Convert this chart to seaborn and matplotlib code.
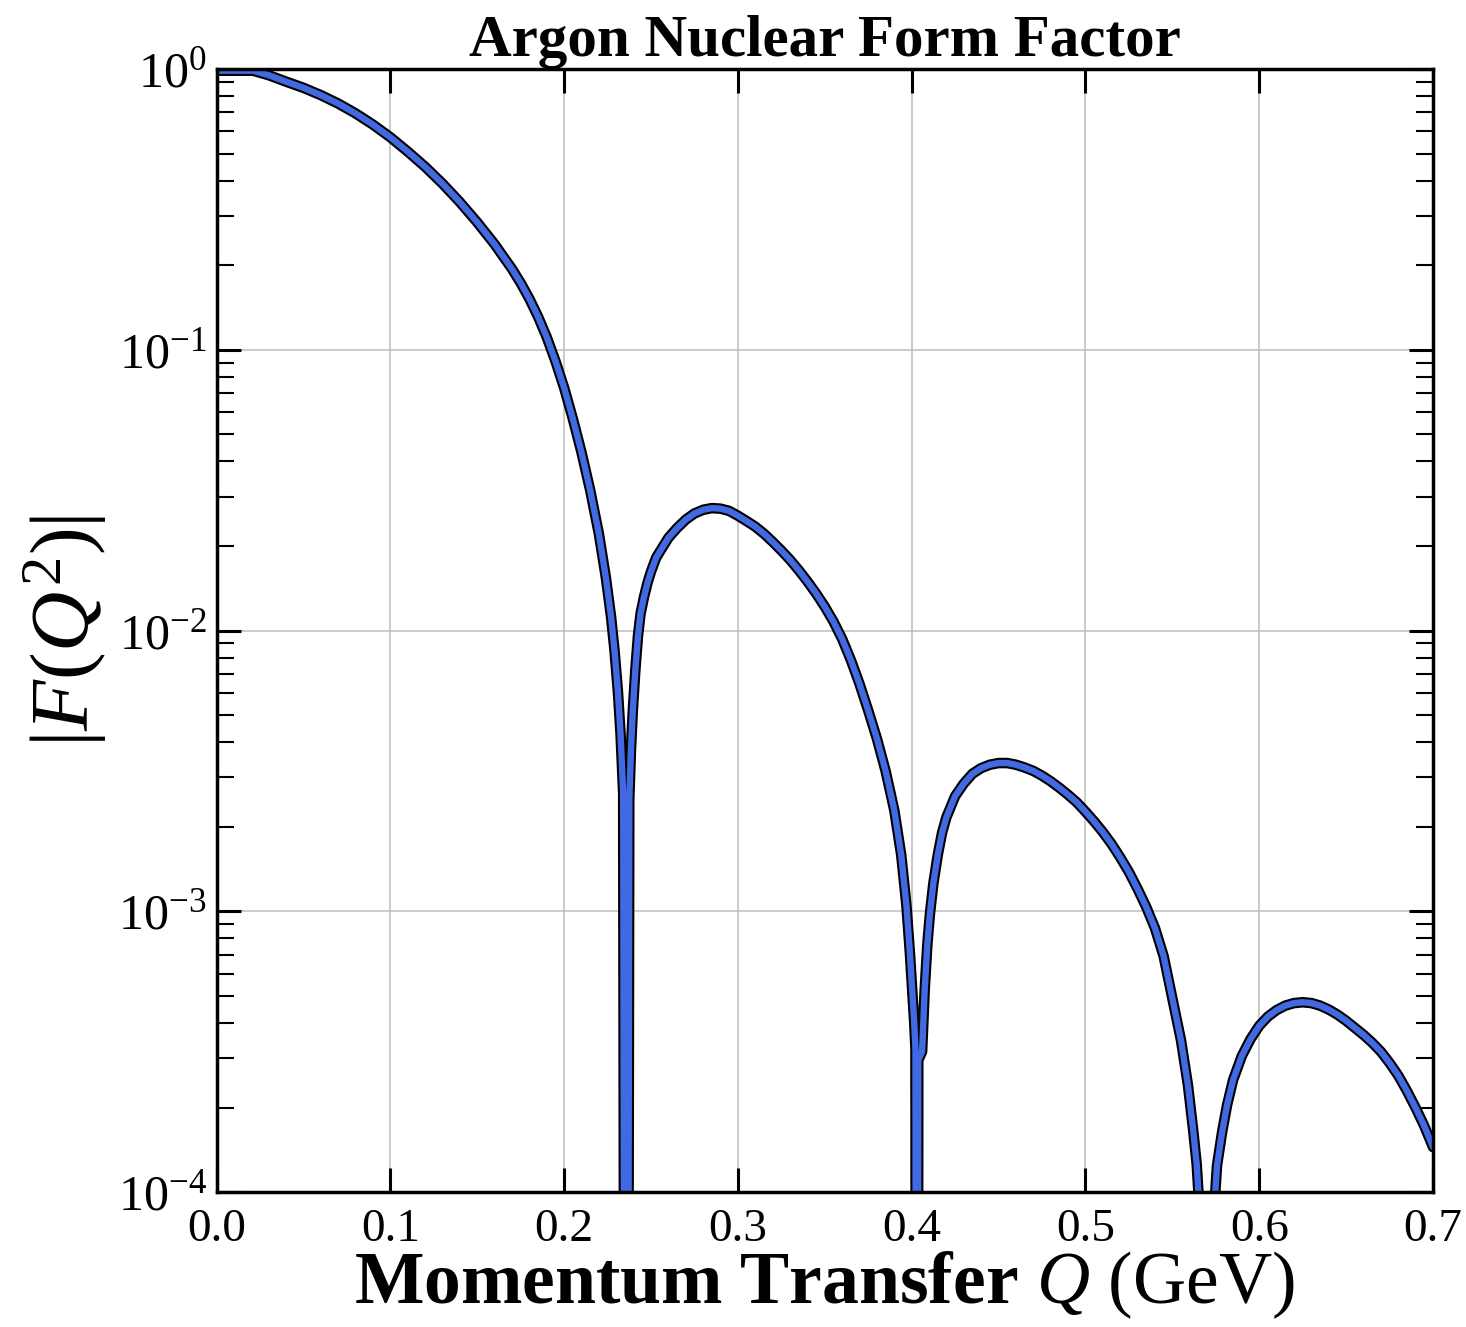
import numpy as np
import pandas as pd
import seaborn as sns
import matplotlib
matplotlib.use("Agg")
import matplotlib.pyplot as plt
import matplotlib.patheffects as pe
from matplotlib.ticker import LogLocator, MultipleLocator, FormatStrFormatter, NullFormatter

# Momentum transfer Q (GeV)
q_gev = [
    0.0000, 0.0210, 0.0300, 0.0400, 0.0500, 0.0600, 0.0700, 0.0800, 0.0900, 0.1000,
    0.1100, 0.1200, 0.1300, 0.1400, 0.1500, 0.1600, 0.1700, 0.1750, 0.1800, 0.1850,
    0.1900, 0.1950, 0.2000, 0.2050, 0.2100, 0.2150, 0.2200, 0.2240, 0.2270, 0.2290,
    0.2310, 0.2325, 0.2340, 0.2358, 0.2375, 0.2385, 0.2395, 0.2410, 0.2425, 0.2440,
    0.2460, 0.2480, 0.2500, 0.2530, 0.2560, 0.2600, 0.2650, 0.2700, 0.2750, 0.2800,
    0.2850, 0.2900, 0.2950, 0.3000, 0.3050, 0.3100, 0.3150, 0.3200, 0.3250, 0.3300,
    0.3350, 0.3400, 0.3450, 0.3500, 0.3550, 0.3600, 0.3650, 0.3700, 0.3750, 0.3800,
    0.3850, 0.3900, 0.3940, 0.3970, 0.3990, 0.4005, 0.4015, 0.4022, 0.4030, 0.4038,
    0.4060, 0.4075, 0.4090, 0.4105, 0.4125, 0.4150, 0.4175, 0.4200, 0.4250, 0.4300,
    0.4350, 0.4400, 0.4450, 0.4500, 0.4550, 0.4600, 0.4650, 0.4700, 0.4750, 0.4800,
    0.4850, 0.4900, 0.4950, 0.5000, 0.5050, 0.5100, 0.5150, 0.5200, 0.5250, 0.5300,
    0.5350, 0.5400, 0.5450, 0.5500, 0.5550, 0.5590, 0.5620, 0.5640, 0.5655, 0.5698,
    0.5742, 0.5757, 0.5786, 0.5815, 0.5850, 0.5900, 0.5950, 0.6000, 0.6050, 0.6100,
    0.6150, 0.6200, 0.6250, 0.6300, 0.6350, 0.6400, 0.6450, 0.6500, 0.6550, 0.6600,
    0.6650, 0.6700, 0.6750, 0.6800, 0.6850, 0.6900, 0.6950, 0.7000,
]

# log10 |F(Q^2)| of the argon nuclear form factor (zeros of F sit far below the axis)
log10_form_factor = [
    -0.006, -0.006, -0.022, -0.045, -0.067, -0.093, -0.123, -0.158, -0.198, -0.243,
    -0.294, -0.348, -0.408, -0.474, -0.546, -0.624, -0.712, -0.762, -0.818, -0.882,
    -0.955, -1.040, -1.135, -1.245, -1.365, -1.500, -1.655, -1.810, -1.950, -2.070,
    -2.220, -2.370, -2.580, -9.000, -2.600, -2.420, -2.290, -2.140, -2.020, -1.940,
    -1.880, -1.830, -1.790, -1.740, -1.710, -1.670, -1.635, -1.605, -1.583, -1.570,
    -1.564, -1.566, -1.574, -1.591, -1.610, -1.630, -1.655, -1.684, -1.715, -1.748,
    -1.785, -1.825, -1.868, -1.915, -1.968, -2.030, -2.105, -2.190, -2.285, -2.385,
    -2.500, -2.640, -2.800, -2.980, -3.150, -3.300, -3.400, -3.490, -9.000, -3.530,
    -3.500, -3.280, -3.120, -3.010, -2.900, -2.800, -2.720, -2.665, -2.590, -2.545,
    -2.510, -2.490, -2.478, -2.472, -2.472, -2.478, -2.488, -2.500, -2.517, -2.537,
    -2.560, -2.585, -2.612, -2.645, -2.680, -2.718, -2.760, -2.808, -2.860, -2.920,
    -2.985, -3.060, -3.160, -3.310, -3.460, -3.620, -3.780, -3.900, -4.050, -9.000,
    -4.050, -3.906, -3.788, -3.690, -3.600, -3.515, -3.455, -3.408, -3.375, -3.352,
    -3.336, -3.327, -3.324, -3.327, -3.336, -3.350, -3.368, -3.390, -3.415, -3.440,
    -3.468, -3.500, -3.540, -3.585, -3.640, -3.700, -3.765, -3.840,
]

title_text = "Argon Nuclear Form Factor"
x_label = r"$\mathbf{Momentum\ Transfer}$ $Q$ (GeV)"
y_label = r"$|F(Q^2)|$"

sns.set_theme(style="whitegrid")
plt.rcParams["font.family"] = ["Liberation Serif", "DejaVu Serif"]
plt.rcParams["mathtext.fontset"] = "custom"
plt.rcParams["mathtext.rm"] = "Liberation Serif"
plt.rcParams["mathtext.it"] = "Liberation Serif:italic"
plt.rcParams["mathtext.bf"] = "Liberation Serif:bold"
for key in ("text.color", "axes.labelcolor", "xtick.color", "ytick.color"):
    plt.rcParams[key] = "black"

df = pd.DataFrame({"Q": q_gev, "F": np.power(10.0, log10_form_factor)})

fig = plt.figure(figsize=(14.66, 13.27), dpi=100)
ax = fig.add_axes([0.1477, 0.1017, 0.9775 - 0.1477, 0.948 - 0.1017])
ax.set_facecolor("white")

sns.lineplot(
    data=df, x="Q", y="F", ax=ax, sort=False, estimator=None,
    color="#4169e1", linewidth=4.6, zorder=3,
    path_effects=[pe.Stroke(linewidth=7.6, foreground="black"), pe.Normal()],
)

ax.set_yscale("log")
ax.set_xlim(0.0, 0.7)
ax.set_ylim(1e-4, 1.0)

ax.xaxis.set_major_locator(MultipleLocator(0.1))
ax.xaxis.set_major_formatter(FormatStrFormatter("%.1f"))
ax.yaxis.set_major_locator(LogLocator(base=10, numticks=10))
ax.yaxis.set_minor_locator(LogLocator(base=10, subs=np.arange(2, 10), numticks=20))
ax.yaxis.set_minor_formatter(NullFormatter())

ax.grid(True, which="major", color="#bdbdbd", linewidth=1.1)
ax.grid(False, which="minor")

ax.tick_params(which="both", direction="in", top=True, right=True,
               bottom=True, left=True, colors="black")
ax.tick_params(which="major", length=17, width=2.2, labelsize=34)
ax.tick_params(which="minor", length=12, width=1.5)
ax.tick_params(axis="x", which="major", pad=12)
ax.tick_params(axis="y", which="major", pad=7, labelsize=36)

for s in ax.spines.values():
    s.set_visible(True)
    s.set_color("black")
    s.set_linewidth(2.5)
    s.set_zorder(4)

ax.set_title(title_text, fontsize=42.5, fontweight="bold", pad=8)
ax.set_xlabel(x_label, fontsize=53, labelpad=-1)
ax.set_ylabel(y_label, fontsize=60, labelpad=6)

fig.savefig("out.png", dpi=100, facecolor="white")
